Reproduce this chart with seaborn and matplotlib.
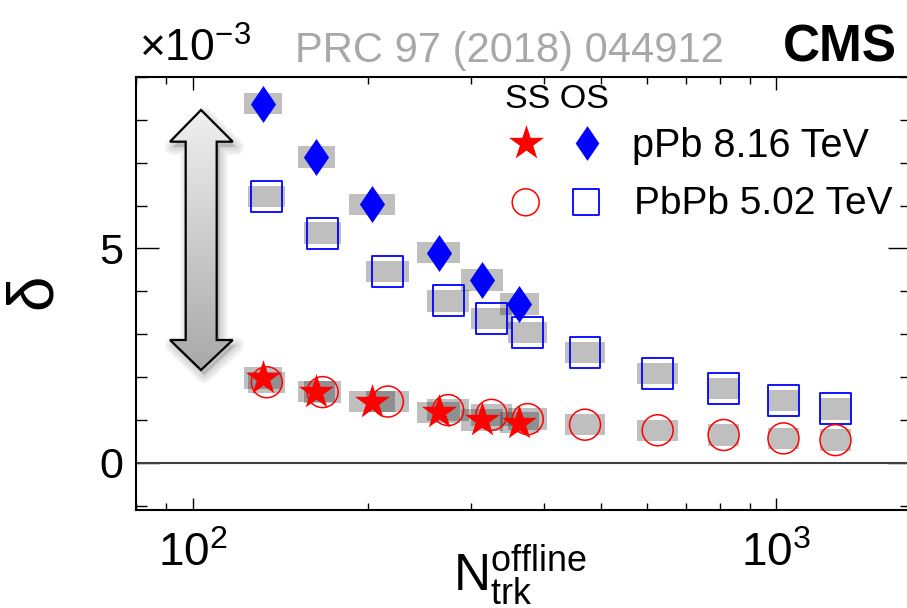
import numpy as np
import pandas as pd
import matplotlib
matplotlib.use("Agg")
import matplotlib.pyplot as plt
import seaborn as sns
from matplotlib.path import Path
from matplotlib.patches import Polygon
from matplotlib.ticker import FixedLocator, MultipleLocator, NullFormatter, LogLocator

# ---------------- data (delta in units of 1e-3) ----------------
ppb_ntrk = [132, 163, 203, 264, 313, 363]
ppb_ss = [1.98, 1.66, 1.43, 1.18, 1.00, 0.94]
ppb_os = [8.38, 7.13, 6.03, 4.90, 4.26, 3.71]
ppb_syst = [0.25, 0.25, 0.25, 0.25, 0.25, 0.25]
ppb_binw = [0.0325, 0.0317, 0.0394, 0.0368, 0.0360, 0.0342]   # half width, decades

pbpb_ntrk = [134, 167, 216, 274, 325, 375, 470, 626, 812, 1028, 1262]
pbpb_ss = [1.88, 1.65, 1.43, 1.23, 1.12, 1.02, 0.89, 0.76, 0.65, 0.57, 0.53]
pbpb_os = [6.21, 5.36, 4.46, 3.78, 3.37, 3.04, 2.57, 2.09, 1.73, 1.46, 1.26]
pbpb_syst = [0.25, 0.25, 0.25, 0.25, 0.25, 0.25, 0.25, 0.25, 0.25, 0.25, 0.25]
pbpb_binw = [0.0317, 0.0317, 0.0368, 0.0360, 0.0351, 0.0334,
             0.0342, 0.0351, 0.0265, 0.0265, 0.0265]

y_ticks_major = [0, 5]
y_tick_labels = ["0", "5"]

RED = "#ff0000"
BLUE = "#0000ff"

sns.set_theme(style="ticks")
plt.rcParams["font.family"] = ["Liberation Sans", "DejaVu Sans"]
plt.rcParams["mathtext.fontset"] = "custom"
plt.rcParams["mathtext.rm"] = "Liberation Sans"
plt.rcParams["mathtext.it"] = "Liberation Sans:italic"
plt.rcParams["mathtext.bf"] = "Liberation Sans:bold"
plt.rcParams["mathtext.default"] = "regular"
for key in ["text.color", "axes.labelcolor", "xtick.color", "ytick.color",
            "axes.edgecolor"]:
    plt.rcParams[key] = "black"

W, H = 907, 608
fig = plt.figure(figsize=(W / 100, H / 100), dpi=100)
ax_l, ax_r, ax_t, ax_b = 136, 911, 77, 510
ax = fig.add_axes([ax_l / W, 1 - ax_b / H, (ax_r - ax_l) / W, (ax_b - ax_t) / H])
ax.set_xscale("log")
ax.set_xlim(80, 1700)
ax.set_ylim(-1.1, 9.0)

# reference line at zero
ax.axhline(0, color="#404040", lw=1.5, zorder=1)

# systematic uncertainty boxes
def syst_boxes(xs, ys, dys, hws):
    xs = np.asarray(xs, float)
    ys = np.asarray(ys, float)
    dys = np.asarray(dys, float)
    hws = np.asarray(hws, float)
    left = xs * 10 ** (-hws)
    right = xs * 10 ** hws
    ax.bar(left, 2 * dys, width=right - left, bottom=ys - dys, align="edge",
           color="black", alpha=0.25, linewidth=0, zorder=2)

syst_boxes(ppb_ntrk, ppb_os, ppb_syst, ppb_binw)
syst_boxes(ppb_ntrk, ppb_ss, ppb_syst, ppb_binw)
syst_boxes(pbpb_ntrk, pbpb_os, pbpb_syst, pbpb_binw)
syst_boxes(pbpb_ntrk, pbpb_ss, pbpb_syst, pbpb_binw)

# thin diamond marker
diamond = Path([(0, 1), (0.68, 0), (0, -1), (-0.68, 0), (0, 1)],
               [Path.MOVETO, Path.LINETO, Path.LINETO, Path.LINETO, Path.CLOSEPOLY])

df_pbpb = pd.DataFrame({"ntrk": pbpb_ntrk, "ss": pbpb_ss, "os": pbpb_os})
df_ppb = pd.DataFrame({"ntrk": ppb_ntrk, "ss": ppb_ss, "os": ppb_os})

sns.scatterplot(data=df_pbpb, x="ntrk", y="os", marker="s", s=22.3 ** 2,
                facecolor="none", edgecolor=BLUE, linewidth=1.3, ax=ax, zorder=3)
sns.scatterplot(data=df_pbpb, x="ntrk", y="ss", marker="o", s=22.3 ** 2,
                facecolor="none", edgecolor=RED, linewidth=1.1, ax=ax, zorder=3)
sns.scatterplot(data=df_ppb, x="ntrk", y="os", marker=diamond, s=26.6 ** 2,
                color=BLUE, edgecolor=BLUE, linewidth=0, ax=ax, zorder=4)
sns.scatterplot(data=df_ppb, x="ntrk", y="ss", marker="*", s=26.5 ** 2,
                color=RED, edgecolor=RED, linewidth=0, ax=ax, zorder=4)

ax.set_xlabel("")
ax.set_ylabel("")

# axes styling
for sp in ax.spines.values():
    sp.set_visible(True)
    sp.set_linewidth(1.5)
    sp.set_color("black")

ax.yaxis.set_major_locator(FixedLocator(y_ticks_major))
ax.set_yticklabels(y_tick_labels)
ax.yaxis.set_minor_locator(MultipleLocator(1))
ax.xaxis.set_major_locator(LogLocator(base=10, numticks=10))
ax.xaxis.set_minor_locator(LogLocator(base=10, subs=np.arange(2, 10), numticks=20))
ax.xaxis.set_minor_formatter(NullFormatter())

ax.tick_params(axis="both", which="both", direction="in", top=True, right=True,
               color="black", labelcolor="black")
ax.tick_params(axis="y", which="major", length=16.5, width=1.0, labelsize=31, pad=9)
ax.tick_params(axis="y", which="minor", length=8, width=1.0)
ax.tick_params(axis="x", which="major", length=9, width=1.0, labelsize=33, pad=16)
ax.tick_params(axis="x", which="minor", length=5, width=1.0)

# axis titles
fig.text(520 / W, 1 - 575 / H, r"$\mathrm{N}_{\mathrm{trk}}^{\mathrm{offline}}$",
         fontsize=37, ha="center", va="center", color="black")
fig.text(34 / W, 1 - 291 / H, "δ", fontsize=46, rotation=90, ha="center", va="center",
         color="black")

# header texts
fig.text(139 / W, 1 - 62 / H, r"×10$^{-3}$", fontsize=32, ha="left", va="baseline",
         color="black")
fig.text(295 / W, 1 - 62 / H, "PRC 97 (2018) 044912", fontsize=30, color="#a8a8a8",
         ha="left", va="baseline")
fig.text(897 / W, 1 - 62 / H, "CMS", fontsize=37, fontweight="bold",
         ha="right", va="baseline", color="black")

# legend block
def ax_frac(px, py):
    return (px - ax_l) / (ax_r - ax_l), (ax_b - py) / (ax_b - ax_t)

fig.text(505 / W, 1 - 108.3 / H, "SS OS", fontsize=24.5, ha="left", va="baseline",
         color="black")
for (px, py), mk, sz, face, edge, lw in [
    ((525.7, 143.3), "*", 26.5, RED, RED, 0),
    ((586.7, 143.0), diamond, 25.0, BLUE, BLUE, 0),
    ((525.7, 202.3), "o", 19.4, "none", RED, 1.1),
    ((586.0, 202.0), "s", 19.4, "none", BLUE, 1.3),
]:
    fx, fy = ax_frac(px, py)
    ax.scatter([fx], [fy], marker=mk, s=sz ** 2, facecolor=face, edgecolor=edge,
               linewidth=lw, transform=ax.transAxes, clip_on=False, zorder=6)
fig.text(631.7 / W, 1 - 157.3 / H, "pPb 8.16 TeV", fontsize=28.5, ha="left",
         va="baseline", color="black")
fig.text(634 / W, 1 - 214.3 / H, "PbPb 5.02 TeV", fontsize=28, ha="left",
         va="baseline", color="black")

# double-headed arrow with vertical gradient and soft shadow
x_l_head, x_l_shaft, x_mid, x_r_shaft, x_r_head = 0.0439, 0.0641, 0.0839, 0.1041, 0.1248
y_top, y_top_base, y_bot_base, y_bot = 0.9238, 0.8506, 0.3926, 0.3233
arrow_xy = [(x_mid, y_top), (x_r_head, y_top_base), (x_r_shaft, y_top_base),
            (x_r_shaft, y_bot_base), (x_r_head, y_bot_base), (x_mid, y_bot),
            (x_l_head, y_bot_base), (x_l_shaft, y_bot_base), (x_l_shaft, y_top_base),
            (x_l_head, y_top_base)]
ix0, ix1, iy0, iy1 = 0.02, 0.16, 0.28, 0.96
iax = ax.inset_axes([ix0, iy0, ix1 - ix0, iy1 - iy0])
iax.axis("off")
iax.patch.set_visible(False)
iax.set_zorder(2.5)

sdx, sdy = 0.004, -0.012
shadow_xy = [(x + sdx, y + sdy) for x, y in arrow_xy]
for lw in [12, 9, 6, 3]:
    iax.add_patch(Polygon(shadow_xy, closed=True, facecolor="black", edgecolor="black",
                          alpha=0.04, linewidth=lw, joinstyle="round", zorder=1))
body = Polygon(arrow_xy, closed=True, facecolor="none", edgecolor="none", zorder=1)
iax.add_patch(body)
grad = np.linspace(0.94, 0.66, 256).reshape(-1, 1)
img = iax.imshow(grad, extent=[x_l_head, x_r_head, y_bot, y_top], origin="upper",
                 cmap="gray", vmin=0, vmax=1, aspect="auto", interpolation="bilinear",
                 zorder=2)
img.set_clip_path(body)
iax.add_patch(Polygon(arrow_xy, closed=True, facecolor="none", edgecolor="black",
                      linewidth=1.6, joinstyle="miter", zorder=3))
iax.set_xlim(ix0, ix1)
iax.set_ylim(iy0, iy1)

fig.savefig("out.png", dpi=100)
